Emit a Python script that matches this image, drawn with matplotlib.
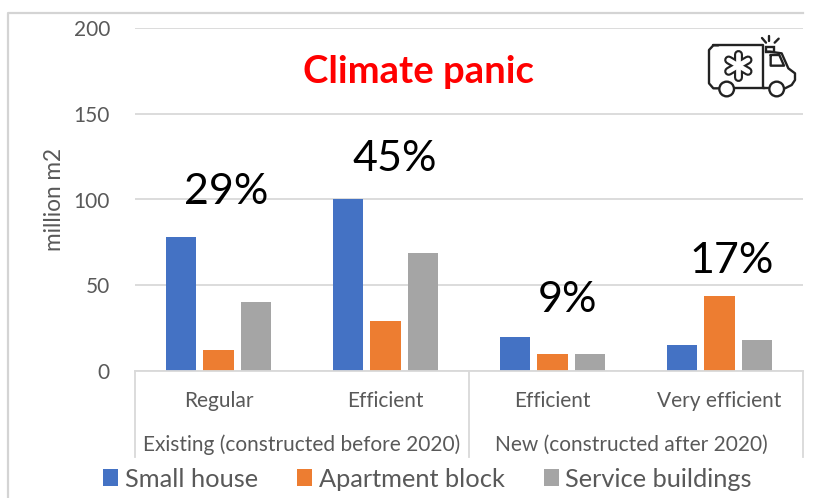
import matplotlib
matplotlib.use('Agg')
import matplotlib.pyplot as plt
from matplotlib.patches import Circle, Rectangle

plt.rcParams['font.family'] = ['Lato', 'DejaVu Sans']

# values
categories = ['Regular', 'Efficient', 'Efficient', 'Very efficient']
groups = ['Existing (constructed before 2020)', 'New (constructed after 2020)']
small_house = [78, 100, 20, 15]
apartment_block = [12, 29, 10, 44]
service_buildings = [40, 69, 10, 18]
shares = ['29%', '45%', '9%', '17%']
y_ticks = [0, 50, 100, 150, 200]

W, H = 816, 498
GREY = '#595959'
LINE = '#d9d9d9'

fig = plt.figure(figsize=(W / 100, H / 100), dpi=100)
fig.patch.set_facecolor('white')

# outer chart frame
fig.add_artist(plt.Line2D([8 / W, 8 / W, 803 / W], [1 - 498 / H, 1 - 13 / H, 1 - 13 / H],
                          color='#d4d4d4', lw=1.6))

ax = fig.add_axes([135 / W, 1 - 371 / H, (803 - 135) / W, (371 - 28) / H])
ax.set_xlim(0, 4)
ax.set_ylim(0, 200)
for s in ax.spines.values():
    s.set_visible(False)
ax.set_axisbelow(True)
ax.yaxis.grid(True, color=LINE, lw=1.3)
ax.set_yticks(y_ticks)
ax.tick_params(axis='y', length=0, pad=18, labelsize=15, labelcolor=GREY)
ax.set_xticks([])
ax.set_ylabel('million m2', fontsize=16.3, color=GREY, labelpad=6)

bw = 0.18
step = 0.224
colors = ['#4472c4', '#ed7d31', '#a5a5a5']
names = ['Small house', 'Apartment block', 'Service buildings']
for j, vals in enumerate([small_house, apartment_block, service_buildings]):
    xs = [i + 0.5 + (j - 1) * step for i in range(4)]
    ax.bar(xs, vals, bw, color=colors[j], label=names[j])

# percent labels sit where they were put by hand, pixel centres
share_px = [(226, 192), (395, 159), (568, 300), (732, 261)]
for lab, (px, py) in zip(shares, share_px):
    fig.text(px / W, 1 - py / H, lab, ha='center', va='center', fontsize=31, color='black')

fig.text(418 / W, 1 - 72 / H, 'Climate panic', ha='center', va='center',
         fontsize=27.5, fontweight='bold', color='#ff0000')

# two level category axis under the plot
trans = ax.get_xaxis_transform()
ax.plot([0, 4], [0, 0], color=LINE, lw=1.3, transform=trans, clip_on=False)
for x in [0, 2, 4]:
    ax.plot([x, x], [0, -0.25], color=LINE, lw=1.3, transform=trans, clip_on=False)
for i, lab in enumerate(categories):
    ax.text(i + 0.5, -0.087, lab, transform=trans, ha='center', va='center',
            fontsize=15, color=GREY)
ax.text(0.997, -0.215, groups[0], transform=trans, ha='center', va='center', fontsize=15, color=GREY)
ax.text(2.97, -0.215, groups[1], transform=trans, ha='center', va='center', fontsize=15, color=GREY)

fig.legend(*ax.get_legend_handles_labels(), loc='center', ncol=3,
           bbox_to_anchor=(427.5 / W, 1 - 479 / H), frameon=False, fontsize=18.3,
           labelcolor=GREY, handlelength=0.6, handleheight=0.6, handletextpad=0.25,
           columnspacing=1.54)

# ambulance icon, drawn in the zoomed pixel grid
icon = fig.add_axes([680 / W, 1 - 110 / H, 136 / W, 90 / H])
icon.set_xlim(0, 408)
icon.set_ylim(270, 0)
icon.axis('off')
ik = dict(color='#222222', lw=1.7, solid_capstyle='round', solid_joinstyle='round')
icon.plot([115, 100, 87, 87, 100, 115], [205, 205, 190, 90, 76, 76], **ik)
icon.plot([100, 250, 250, 255], [76, 76, 205, 205], **ik)
icon.plot([165, 265], [205, 205], **ik)
icon.plot([315, 335, 345, 345, 325, 305, 270, 258],
          [205, 195, 180, 160, 145, 100, 95, 95], **ik)
icon.plot([272, 272, 312, 298, 272], [105, 137, 137, 105, 105], **ik)
icon.add_patch(Rectangle((257, 80), 24, 16, fill=False, ec='#222222', lw=1.7))
icon.plot([267, 267], [48, 64], **ik)
icon.plot([246, 258], [54, 68], **ik)
icon.plot([296, 284], [56, 68], **ik)
for cx in (140, 290):
    icon.add_patch(Circle((cx, 207), 22, fill=False, ec='#222222', lw=1.7))
# star of life: dark thick strokes with white ones on top leave an outline
arms = [([175, 175], [103, 171]), ([146, 204], [120, 154]), ([146, 204], [154, 120])]
for xs, ys in arms:
    icon.plot(xs, ys, color='#222222', lw=6.5, solid_capstyle='round')
for xs, ys in arms:
    icon.plot(xs, ys, color='white', lw=3.4, solid_capstyle='round')

fig.savefig('out.png', dpi=100)
